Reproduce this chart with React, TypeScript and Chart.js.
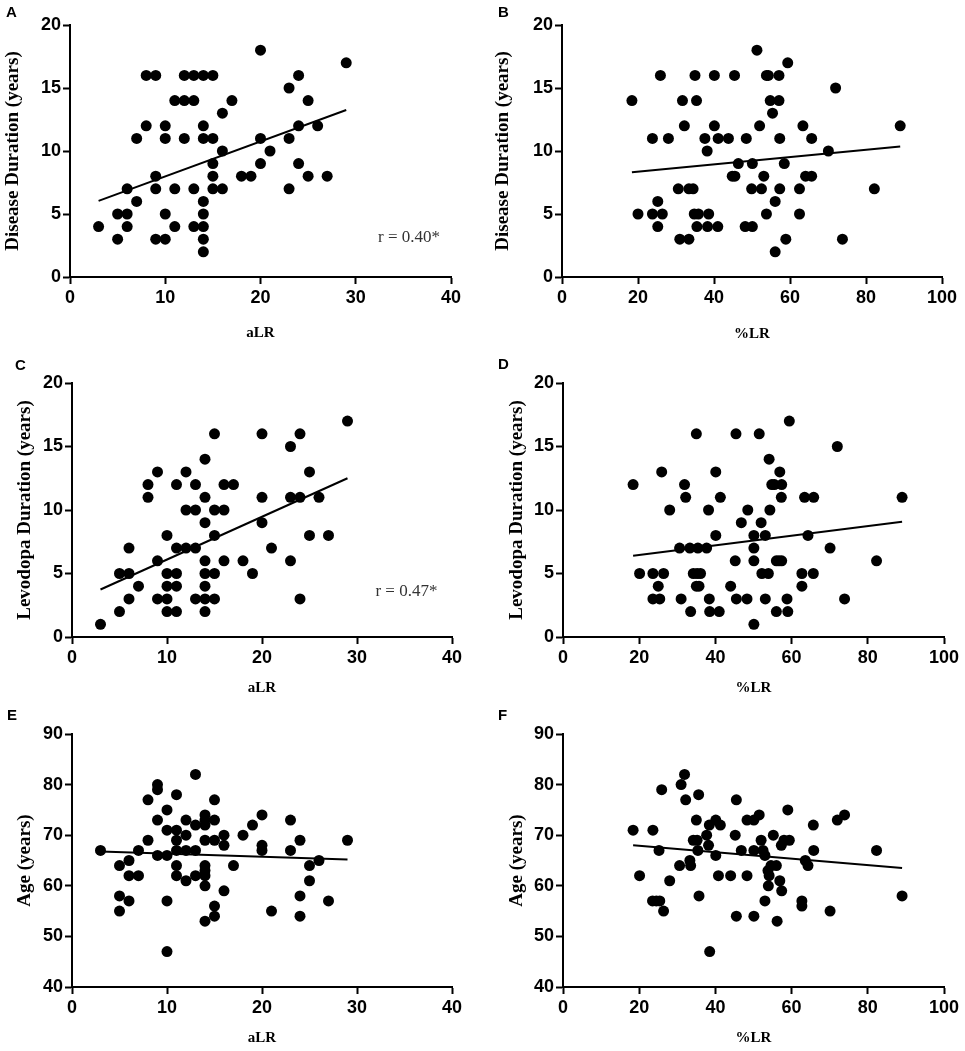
import { useEffect, useRef } from "react"
import { Chart, registerables } from "chart.js"

Chart.register(...registerables)

// ---- values ----
// A: aLR vs disease duration
const aLR_A = [3, 5, 5, 6, 6, 6, 7, 7, 8, 8, 9, 9, 9, 9, 10, 10, 10, 10, 11, 11, 11, 12, 12, 12, 13, 13, 13, 13, 14, 14, 14, 14, 14, 14, 14, 14, 15, 15, 15, 15, 15, 16, 16, 16, 17, 18, 19, 20, 20, 20, 21, 23, 23, 23, 24, 24, 24, 25, 25, 26, 27, 29]
const diseaseDur_A = [4, 5, 3, 7, 5, 4, 11, 6, 16, 12, 16, 8, 7, 3, 12, 11, 5, 3, 14, 7, 4, 16, 14, 11, 16, 14, 7, 4, 16, 12, 11, 6, 5, 4, 3, 2, 16, 11, 9, 8, 7, 13, 10, 7, 14, 8, 8, 18, 11, 9, 10, 15, 11, 7, 16, 12, 9, 14, 8, 12, 8, 17]
const fitX_A = [3, 29]
const fitY_A = [6.04, 13.25]

// B: %LR vs disease duration
const pctLR_B = [18.4, 20.0, 23.8, 23.8, 25.2, 25.2, 25.9, 26.4, 28.0, 30.6, 31.0, 31.7, 32.2, 33.4, 33.4, 34.5, 35.0, 35.4, 34.8, 35.9, 35.5, 37.6, 38.2, 38.6, 38.3, 40.1, 40.1, 41.0, 41.1, 43.8, 44.8, 45.5, 45.4, 46.4, 48.2, 48.5, 50.1, 50.1, 49.9, 51.3, 52.0, 52.5, 53.1, 53.8, 53.8, 54.3, 54.8, 55.4, 56.1, 56.1, 57.1, 57.1, 57.3, 57.3, 58.5, 58.9, 59.4, 62.5, 62.5, 63.4, 64.1, 65.7, 65.7, 70.1, 72.0, 73.8, 82.2, 89.0]
const diseaseDur_B = [14, 5, 11, 5, 6, 4, 16, 5, 11, 7, 3, 14, 12, 3, 7, 7, 16, 14, 5, 5, 4, 11, 10, 5, 4, 16, 12, 4, 11, 11, 8, 8, 16, 9, 4, 11, 4, 9, 7, 18, 12, 7, 8, 5, 16, 16, 14, 13, 6, 2, 16, 14, 11, 7, 9, 3, 17, 7, 5, 12, 8, 11, 8, 10, 15, 3, 7, 12]
const fitX_B = [18.4, 89]
const fitY_B = [8.32, 10.36]

// C: aLR vs levodopa duration
const aLR_C = [3, 5, 5, 6, 6, 6, 7, 8, 8, 9, 9, 9, 10, 10, 10, 10, 10, 11, 11, 11, 11, 11, 12, 12, 12, 13, 13, 13, 13, 14, 14, 14, 14, 14, 14, 14, 14, 15, 15, 15, 15, 15, 16, 16, 16, 17, 18, 19, 20, 20, 20, 21, 23, 23, 23, 24, 24, 24, 25, 25, 26, 27, 29]
const levoDur_C = [1, 5, 2, 7, 5, 3, 4, 12, 11, 13, 6, 3, 8, 5, 4, 3, 2, 12, 7, 5, 4, 2, 13, 10, 7, 12, 10, 7, 3, 14, 11, 9, 6, 5, 4, 3, 2, 16, 10, 8, 5, 3, 12, 10, 6, 12, 6, 5, 16, 11, 9, 7, 15, 11, 6, 16, 11, 3, 13, 8, 11, 8, 17]
const fitX_C = [3, 29]
const fitY_C = [3.74, 12.5]

// D: %LR vs levodopa duration
const pctLR_D = [18.4, 20.1, 23.6, 23.6, 25.0, 25.4, 25.9, 26.4, 28.0, 30.6, 31.0, 31.9, 32.2, 33.5, 33.3, 34.2, 35.0, 35.4, 35.0, 35.7, 35.2, 36.1, 37.7, 38.2, 38.4, 38.5, 40.1, 40.1, 41.0, 41.3, 44.0, 45.2, 45.4, 45.5, 46.8, 48.3, 48.5, 50.1, 50.1, 50.1, 50.1, 51.5, 52.0, 52.2, 53.1, 53.1, 53.9, 54.1, 54.3, 54.8, 55.5, 56.0, 56.7, 57.4, 56.0, 56.9, 57.4, 57.3, 58.8, 59.0, 59.4, 62.7, 62.7, 63.4, 64.3, 65.8, 65.7, 70.1, 72.0, 73.9, 82.3, 89.0]
const levoDur_D = [12, 5, 5, 3, 4, 3, 13, 5, 10, 7, 3, 12, 11, 2, 7, 5, 16, 7, 4, 4, 5, 5, 7, 10, 3, 2, 13, 8, 2, 11, 4, 6, 16, 3, 9, 3, 10, 8, 7, 6, 1, 16, 9, 5, 8, 3, 5, 14, 10, 12, 12, 6, 6, 6, 2, 13, 12, 11, 3, 2, 17, 4, 5, 11, 8, 11, 5, 7, 15, 3, 6, 11]
const fitX_D = [18.4, 89]
const fitY_D = [6.39, 9.08]

// E: aLR vs age
const aLR_E = [3, 5, 5, 5, 6, 6, 6, 7, 7, 8, 8, 9, 9, 9, 9, 10, 10, 10, 10, 10, 11, 11, 11, 11, 11, 11, 12, 12, 12, 12, 13, 13, 13, 13, 14, 14, 14, 14, 14, 14, 14, 14, 14, 15, 15, 15, 15, 15, 16, 16, 16, 17, 18, 19, 20, 20, 20, 21, 23, 23, 24, 24, 24, 25, 25, 26, 27, 29]
const age_E = [67, 64, 58, 55, 65, 62, 57, 67, 62, 77, 69, 80, 79, 73, 66, 75, 71, 66, 57, 47, 78, 71, 69, 67, 64, 62, 73, 70, 67, 61, 82, 72, 67, 62, 74, 73, 72, 69, 64, 63, 62, 60, 53, 77, 73, 69, 56, 54, 70, 68, 59, 64, 70, 72, 74, 68, 67, 55, 73, 67, 69, 58, 54, 64, 61, 65, 57, 69]
const fitX_E = [3, 29]
const fitY_E = [66.8, 65.2]

// F: %LR vs age
const pctLR_F = [18.4, 20.1, 23.6, 23.5, 24.5, 25.4, 25.2, 25.9, 26.4, 28.0, 30.6, 31.0, 31.9, 32.2, 33.3, 33.5, 34.2, 35.0, 35.2, 35.6, 35.4, 35.7, 37.7, 38.2, 38.4, 38.5, 40.1, 40.1, 40.8, 41.3, 44.0, 45.2, 45.5, 45.5, 46.8, 48.3, 48.3, 50.1, 50.1, 50.1, 51.5, 52.0, 52.5, 53.0, 53.0, 53.8, 54.1, 53.9, 54.6, 55.2, 56.0, 56.2, 56.9, 57.3, 57.4, 58.0, 59.0, 59.4, 63.6, 64.3, 62.7, 62.7, 65.7, 65.8, 70.1, 72.0, 73.9, 82.3, 89.0]
const age_F = [71, 62, 71, 57, 57, 57, 67, 79, 55, 61, 64, 80, 82, 77, 65, 64, 69, 73, 69, 78, 67, 58, 70, 68, 72, 47, 73, 66, 62, 72, 62, 70, 77, 54, 67, 62, 73, 67, 73, 54, 74, 69, 67, 66, 57, 63, 62, 60, 64, 70, 64, 53, 61, 68, 59, 69, 75, 69, 65, 64, 57, 56, 72, 67, 55, 73, 74, 67, 58]
const fitX_F = [18.4, 89]
const fitY_F = [68.0, 63.5]

type Panel = {
  letter: string
  xs: number[]
  ys: number[]
  fitX: number[]
  fitY: number[]
  xTitle: string
  yTitle: string
  xMax: number
  xStep: number
  yMin: number
  yMax: number
  yStep: number
  note?: { text: string; x: number; y: number }
  box: { left: number; top: number; width: number; height: number }
  yWidth: number
  xHeight: number
  padTop: number
  padRight: number
  yTitlePad: number
  xTitlePad: number
  letterPos: { left: number; top: number }
}

const panels: Panel[] = [
  {
    letter: "A", xs: aLR_A, ys: diseaseDur_A, fitX: fitX_A, fitY: fitY_A,
    xTitle: "aLR", yTitle: "Disease Duration (years)", xMax: 40, xStep: 10, yMin: 0, yMax: 20, yStep: 5,
    note: { text: "r = 0.40*", x: 35.6, y: 3.1 },
    box: { left: 0, top: 0, width: 480, height: 345 }, yWidth: 70, xHeight: 68, padTop: 25, padRight: 29,
    yTitlePad: 1.5, xTitlePad: 2.5, letterPos: { left: 6, top: 4 },
  },
  {
    letter: "B", xs: pctLR_B, ys: diseaseDur_B, fitX: fitX_B, fitY: fitY_B,
    xTitle: "%LR", yTitle: "Disease Duration (years)", xMax: 100, xStep: 20, yMin: 0, yMax: 20, yStep: 5,
    box: { left: 480, top: 0, width: 485, height: 345 }, yWidth: 82, xHeight: 68, padTop: 25, padRight: 23,
    yTitlePad: 11.6, xTitlePad: 2, letterPos: { left: 498, top: 4 },
  },
  {
    letter: "C", xs: aLR_C, ys: levoDur_C, fitX: fitX_C, fitY: fitY_C,
    xTitle: "aLR", yTitle: "Levodopa Duration (years)", xMax: 40, xStep: 10, yMin: 0, yMax: 20, yStep: 5,
    note: { text: "r = 0.47*", x: 35.2, y: 3.55 },
    box: { left: 0, top: 345, width: 480, height: 355 }, yWidth: 72, xHeight: 63, padTop: 38, padRight: 28,
    yTitlePad: 13.6, xTitlePad: 3, letterPos: { left: 15, top: 357 },
  },
  {
    letter: "D", xs: pctLR_D, ys: levoDur_D, fitX: fitX_D, fitY: fitY_D,
    xTitle: "%LR", yTitle: "Levodopa Duration (years)", xMax: 100, xStep: 20, yMin: 0, yMax: 20, yStep: 5,
    box: { left: 480, top: 345, width: 485, height: 355 }, yWidth: 83, xHeight: 63, padTop: 38, padRight: 21,
    yTitlePad: 25.3, xTitlePad: 3, letterPos: { left: 498, top: 356 },
  },
  {
    letter: "E", xs: aLR_E, ys: age_E, fitX: fitX_E, fitY: fitY_E,
    xTitle: "aLR", yTitle: "Age (years)", xMax: 40, xStep: 10, yMin: 40, yMax: 90, yStep: 10,
    box: { left: 0, top: 700, width: 480, height: 351 }, yWidth: 72, xHeight: 64, padTop: 34, padRight: 28,
    yTitlePad: 13.6, xTitlePad: 4, letterPos: { left: 7, top: 707 },
  },
  {
    letter: "F", xs: pctLR_F, ys: age_F, fitX: fitX_F, fitY: fitY_F,
    xTitle: "%LR", yTitle: "Age (years)", xMax: 100, xStep: 20, yMin: 40, yMax: 90, yStep: 10,
    box: { left: 480, top: 700, width: 485, height: 351 }, yWidth: 83, xHeight: 64, padTop: 34, padRight: 21,
    yTitlePad: 25.6, xTitlePad: 4, letterPos: { left: 498, top: 707 },
  },
]

const tickFont = { family: "'Liberation Sans', Arial, sans-serif", size: 18, weight: "bold" as const }
const serif = "'Liberation Serif', 'Times New Roman', serif"

function ScatterPanel({ panel }: { panel: Panel }) {
  const chartRef = useRef<HTMLCanvasElement>(null)

  useEffect(() => {
    if (!chartRef.current) return
    const ctx = chartRef.current.getContext("2d")
    if (!ctx) return

    // the "r = ..." note, placed in data coordinates
    const noteText = {
      id: "noteText",
      afterDatasetsDraw(chart: Chart) {
        if (!panel.note) return
        const c = chart.ctx
        const px = chart.scales.x.getPixelForValue(panel.note.x)
        const py = chart.scales.y.getPixelForValue(panel.note.y)
        c.save()
        c.font = `17px ${serif}`
        c.fillStyle = "#333"
        c.textAlign = "center"
        c.textBaseline = "middle"
        c.fillText(panel.note.text, px, py)
        c.restore()
      },
    }

    const grid = { drawOnChartArea: false, drawTicks: true, tickLength: 7, tickWidth: 2, tickColor: "#000" }
    const border = { display: true, color: "#000", width: 2 }

    const chart = new Chart(ctx, {
      type: "scatter",
      data: {
        datasets: [
          {
            data: panel.xs.map((x, i) => ({ x, y: panel.ys[i] })),
            pointRadius: 5.5,
            pointHoverRadius: 5.5,
            backgroundColor: "#000",
            borderWidth: 0,
          },
          {
            type: "line",
            data: panel.fitX.map((x, i) => ({ x, y: panel.fitY[i] })),
            borderColor: "#000",
            borderWidth: 2,
            pointRadius: 0,
            showLine: true,
            fill: false,
          },
        ],
      },
      options: {
        responsive: true,
        maintainAspectRatio: false,
        animation: false,
        layout: { padding: { top: panel.padTop, right: panel.padRight, left: 0, bottom: 0 } },
        plugins: { legend: { display: false }, tooltip: { enabled: false } },
        scales: {
          x: {
            type: "linear",
            min: 0,
            max: panel.xMax,
            ticks: { stepSize: panel.xStep, font: tickFont, color: "#000", padding: 3 },
            grid,
            border,
            title: {
              display: true,
              text: panel.xTitle,
              color: "#000",
              font: { family: serif, size: 15, weight: "bold" },
              padding: { top: 0, bottom: panel.xTitlePad },
            },
            afterFit: (s: any) => {
              s.height = panel.xHeight
            },
          },
          y: {
            type: "linear",
            min: panel.yMin,
            max: panel.yMax,
            ticks: { stepSize: panel.yStep, font: tickFont, color: "#000", padding: 2 },
            grid,
            border,
            title: {
              display: true,
              text: panel.yTitle,
              color: "#000",
              font: { family: serif, size: 19, weight: "bold" },
              padding: { top: panel.yTitlePad, bottom: 0 },
            },
            afterFit: (s: any) => {
              s.width = panel.yWidth
            },
          },
        },
      },
      plugins: [noteText],
    })

    return () => {
      chart.destroy()
    }
  }, [panel])

  return (
    <>
      <div style={{ position: "absolute", ...panel.box }}>
        <canvas ref={chartRef} />
      </div>
      <div
        style={{
          position: "absolute",
          left: panel.letterPos.left,
          top: panel.letterPos.top,
          font: "bold 15px 'Liberation Sans', Arial, sans-serif",
          lineHeight: "15px",
          color: "#000",
        }}
      >
        {panel.letter}
      </div>
    </>
  )
}

export default function App() {
  useEffect(() => {
    document.body.style.margin = "0"
  }, [])

  return (
    <div style={{ position: "relative", width: 965, height: 1051, background: "#fff" }}>
      {panels.map((p) => (
        <ScatterPanel key={p.letter} panel={p} />
      ))}
    </div>
  )
}
